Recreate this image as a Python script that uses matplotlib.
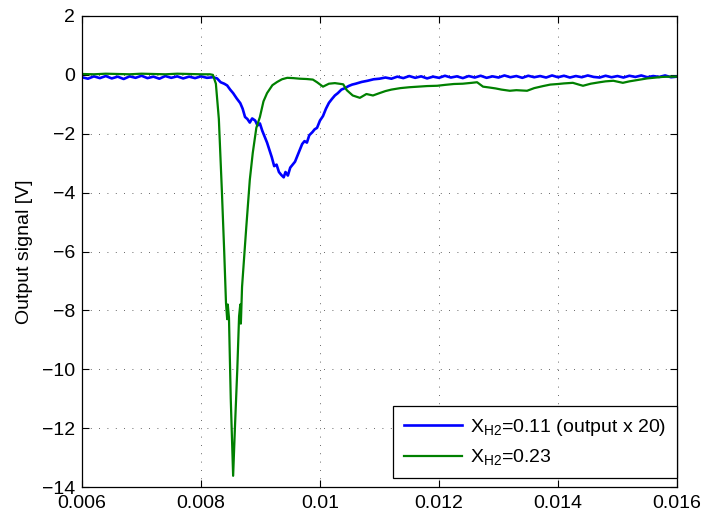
import numpy as np
import matplotlib
matplotlib.use('Agg')
import matplotlib.pyplot as plt

plt.rcParams['font.family'] = ['Liberation Sans', 'DejaVu Sans']
plt.rcParams['mathtext.fontset'] = 'custom'
plt.rcParams['mathtext.rm'] = 'Liberation Sans'
plt.rcParams['mathtext.it'] = 'Liberation Sans:italic'

# X_H2 = 0.11 (сигнал x 20), время в мс
t_blue = [6.0, 6.1, 6.2, 6.3, 6.4, 6.5, 6.6, 6.7, 6.8, 6.9,
          7.0, 7.1, 7.2, 7.3, 7.4, 7.5, 7.6, 7.7, 7.8, 7.9,
          8.0, 8.1, 8.2, 8.27, 8.33, 8.39, 8.44, 8.49, 8.54, 8.60,
          8.66, 8.70, 8.74, 8.78, 8.82, 8.86, 8.91, 8.95, 8.99, 9.03,
          9.07, 9.11, 9.15, 9.19, 9.23, 9.27, 9.31, 9.35, 9.39, 9.42,
          9.46, 9.50, 9.54, 9.58, 9.62, 9.66, 9.70, 9.74, 9.78, 9.82,
          9.87, 9.91, 9.95, 10.00, 10.05, 10.10, 10.15, 10.20, 10.25, 10.30,
          10.36, 10.42, 10.48, 10.54, 10.60, 10.70, 10.80, 10.90, 11.0, 11.1,
          11.2, 11.3, 11.4, 11.5, 11.6, 11.7, 11.8, 11.9, 12.0, 12.1,
          12.2, 12.3, 12.4, 12.5, 12.6, 12.7, 12.8, 12.9, 13.0, 13.1,
          13.2, 13.3, 13.4, 13.5, 13.6, 13.7, 13.8, 13.9, 14.0, 14.1,
          14.2, 14.3, 14.4, 14.5, 14.6, 14.7, 14.8, 14.9, 15.0, 15.1,
          15.2, 15.3, 15.4, 15.5, 15.6, 15.7, 15.8, 15.9, 16.0]
y_blue = [-0.08, -0.13, -0.05, -0.11, -0.04, -0.12, -0.06, -0.14, -0.05, -0.10,
          -0.03, -0.11, -0.06, -0.13, -0.04, -0.10, -0.05, -0.12, -0.06, -0.11,
          -0.05, -0.10, -0.08, -0.12, -0.25, -0.30, -0.36, -0.50, -0.62, -0.80,
          -0.96, -1.15, -1.43, -1.50, -1.62, -1.48, -1.55, -1.72, -1.65, -1.90,
          -2.10, -2.30, -2.55, -2.80, -3.10, -3.05, -3.30, -3.40, -3.48, -3.30,
          -3.42, -3.15, -3.05, -2.95, -2.75, -2.55, -2.35, -2.25, -2.30, -2.05,
          -1.95, -1.85, -1.80, -1.55, -1.40, -1.15, -0.95, -0.82, -0.70, -0.62,
          -0.50, -0.45, -0.38, -0.33, -0.30, -0.24, -0.20, -0.15, -0.13, -0.09,
          -0.13, -0.06, -0.11, -0.04, -0.10, -0.05, -0.12, -0.06, -0.10, -0.03,
          -0.09, -0.05, -0.11, -0.04, -0.09, -0.03, -0.10, -0.05, -0.09, -0.02,
          -0.08, -0.04, -0.10, -0.03, -0.08, -0.04, -0.09, -0.02, -0.08, -0.03,
          -0.09, -0.04, -0.08, -0.02, -0.07, -0.09, -0.03, -0.08, -0.04, -0.09,
          -0.03, -0.07, -0.02, -0.08, -0.04, -0.07, -0.02, -0.08, -0.06]

# X_H2 = 0.23
t_green = [6.0, 6.2, 6.4, 6.6, 6.8, 7.0, 7.2, 7.4, 7.6, 7.8,
           8.0, 8.15, 8.20, 8.25, 8.30, 8.35, 8.39, 8.42, 8.44, 8.45,
           8.47, 8.50, 8.54, 8.57, 8.61, 8.64, 8.66, 8.67, 8.69, 8.76,
           8.82, 8.87, 8.93, 8.99, 9.05, 9.11, 9.20, 9.28, 9.36, 9.45,
           9.55, 9.66, 9.77, 9.88, 9.95, 10.05, 10.15, 10.25, 10.39, 10.45,
           10.55, 10.67, 10.78, 10.89, 11.00, 11.10, 11.20, 11.35, 11.50, 11.65,
           11.80, 11.97, 12.10, 12.25, 12.40, 12.55, 12.64, 12.74, 12.85, 12.95,
           13.05, 13.19, 13.30, 13.48, 13.60, 13.75, 13.87, 14.00, 14.10, 14.25,
           14.35, 14.42, 14.55, 14.70, 14.80, 14.93, 15.09, 15.20, 15.35, 15.50,
           15.60, 15.75, 15.90, 16.00]
y_green = [0.03, 0.02, 0.04, 0.03, 0.02, 0.04, 0.03, 0.02, 0.04, 0.03,
           0.02, 0.02, 0.0, -0.3, -1.5, -3.9, -6.0, -7.75, -8.3, -7.8,
           -8.25, -11.0, -13.62, -12.0, -10.0, -8.2, -7.8, -8.45, -7.2, -5.2,
           -3.57, -2.65, -1.8, -1.43, -0.9, -0.62, -0.35, -0.24, -0.15, -0.10,
           -0.11, -0.13, -0.14, -0.16, -0.25, -0.40, -0.30, -0.28, -0.32, -0.52,
           -0.70, -0.78, -0.65, -0.70, -0.62, -0.55, -0.50, -0.45, -0.42, -0.40,
           -0.38, -0.37, -0.34, -0.31, -0.30, -0.27, -0.25, -0.40, -0.43, -0.46,
           -0.50, -0.54, -0.52, -0.54, -0.45, -0.38, -0.33, -0.31, -0.29, -0.27,
           -0.33, -0.37, -0.30, -0.25, -0.22, -0.20, -0.27, -0.22, -0.17, -0.12,
           -0.10, -0.07, -0.06, -0.06]

x_ticks = [0.006, 0.008, 0.01, 0.012, 0.014, 0.016]
x_tick_labels = ['0.006', '0.008', '0.01', '0.012', '0.014', '0.016']
y_ticks = [-14, -12, -10, -8, -6, -4, -2, 0, 2]

fig = plt.figure(figsize=(7.04, 5.14), dpi=100)
ax = fig.add_axes([82 / 704, 1 - 487 / 514, 595 / 704, 471 / 514])

ax.plot(np.array(t_blue) * 1e-3, y_blue, color='#0000ff', lw=1.9,
        label=r'X$_{\rm H2}$=0.11 (output x 20)')
ax.plot(np.array(t_green) * 1e-3, y_green, color='#008000', lw=1.6,
        label=r'X$_{\rm H2}$=0.23')

ax.set_xlim(0.006, 0.016)
ax.set_ylim(-14, 2)
ax.set_xticks(x_ticks)
ax.set_xticklabels(x_tick_labels)
ax.set_yticks(y_ticks)
ax.tick_params(direction='in', top=True, right=True, length=5, width=0.8,
               labelsize=14)
ax.tick_params(axis='x', pad=6)
ax.tick_params(axis='y', pad=5)
ax.grid(True, color='0.2', lw=0.6, linestyle=(0, (1, 9)))
for sp in ax.spines.values():
    sp.set_linewidth(0.9)

ax.set_ylabel('Output signal [V]', fontsize=14, labelpad=6)

leg = ax.legend(loc='lower right', bbox_to_anchor=(1.0, 0.019),
                borderaxespad=0, fancybox=False, edgecolor='k', fontsize=14,
                handlelength=3.0, handletextpad=0.4, framealpha=1,
                borderpad=0.55, labelspacing=0.5)
leg.get_frame().set_linewidth(0.9)

fig.savefig('out.png', dpi=100)
